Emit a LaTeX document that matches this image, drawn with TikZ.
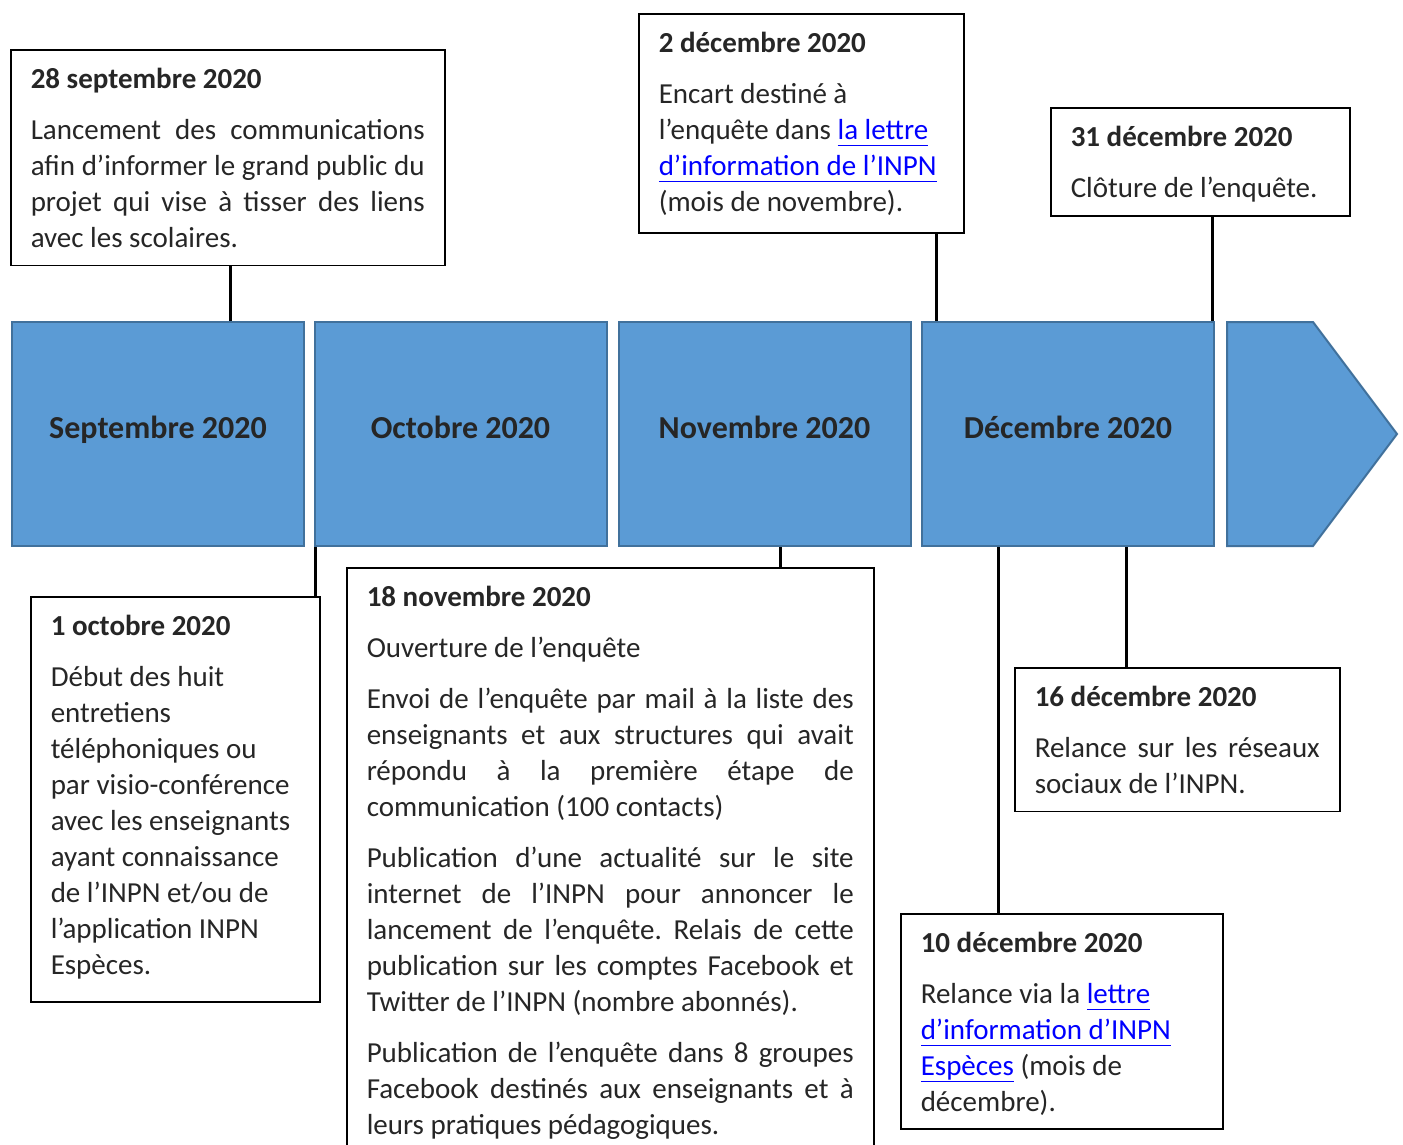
\documentclass[tikz,border=0pt]{standalone}
\usepackage{fontspec}
\setmainfont{Carlito}
\usetikzlibrary{positioning}
\definecolor{monthblue}{HTML}{5B9BD5}
\definecolor{monthedge}{HTML}{41719C}
\definecolor{inktext}{HTML}{262626}
\definecolor{linkblue}{HTML}{0000FF}
\newcommand\lnk[1]{\textcolor{linkblue}{\underline{#1\vphantom{p}}}}
\newcommand\evtitle[1]{{\bfseries #1}\par}
\frenchspacing

\begin{document}
\begin{tikzpicture}[x=1pt,y=-1pt,
  month/.style={draw=monthedge, line width=2pt, fill=monthblue, minimum width=292pt, minimum height=224pt, inner sep=0pt, text=inktext, font=\fontsize{32}{38}\selectfont\bfseries, text height=22pt, text depth=14pt},
  event/.style={draw=black, line width=1.5pt, fill=white, anchor=north west, align=justify, inner xsep=20pt, inner ysep=18pt, text=inktext, font=\fontsize{29}{36}\selectfont, execute at begin node={\frenchspacing\setlength\parskip{15pt}\hyphenpenalty=10000\exhyphenpenalty=10000}},
  tick/.style={line width=3pt}]
\useasboundingbox (0,0) rectangle (1403,1144);
% months
\node[month] (msep) at (158,434) {Septembre 2020};
\node[month, right=8.5pt of msep] (moct) {Octobre 2020};
\node[month, right=10pt of moct] (mnov) {Novembre 2020};
\node[month, right=9.5pt of mnov] (mdec) {Décembre 2020};
\draw[draw=monthedge, line width=2pt, fill=monthblue] (1227,322) -- (1313,322) -- (1397,434) -- (1313,546) -- (1227,546) -- cycle;
% events above
\node[event, text width=394pt] (evsep) at (10,49) {\evtitle{28 septembre 2020}Lancement des communications\linebreak afin d’informer le grand public du\linebreak projet qui vise à tisser des liens\linebreak avec les scolaires.};
\node[event, text width=285pt] (evdecb) at (638,13) {\evtitle{2 décembre 2020}Encart destiné à\newline l’enquête dans \lnk{la lettre}\newline \lnk{d’information de l’INPN}\newline (mois de novembre).};
\node[event, text width=259pt] (evdecd) at (1050,107) {\evtitle{31 décembre 2020}Clôture de l’enquête.\par\vspace{-4pt}};
% events below
\node[event, text width=249pt] (evoct) at (30,596) {\evtitle{1 octobre 2020}Début des huit\newline entretiens\newline téléphoniques ou\newline par visio-conférence\newline avec les enseignants\newline ayant connaissance\newline de l’INPN et/ou de\newline l’application INPN\newline Espèces.\par\vspace{5pt}};
\node[event, text width=487pt] (evnov) at (346,567) {\evtitle{18 novembre 2020}Ouverture de l’enquête\par
Envoi de l’enquête par mail à la liste des\linebreak enseignants et aux structures qui avait\linebreak répondu à la première étape de\linebreak communication (100 contacts)\par
Publication d’une actualité sur le site\linebreak internet de l’INPN pour annoncer le\linebreak lancement de l’enquête. Relais de cette\linebreak publication sur les comptes Facebook et\linebreak Twitter de l’INPN (nombre abonnés).\par
Publication de l’enquête dans 8 groupes\linebreak Facebook destinés aux enseignants et à\linebreak leurs pratiques pédagogiques.};
\node[event, text width=285pt] (evdecc) at (1014,667) {\evtitle{16 décembre 2020}Relance sur les réseaux\linebreak sociaux de l’INPN.};
\node[event, text width=282pt] (evdeca) at (900,913) {\evtitle{10 décembre 2020}Relance via la \lnk{lettre}\newline \lnk{d’information d’INPN}\newline \lnk{Espèces} (mois de\newline décembre).\par\vspace{-4pt}};
% connectors
\draw[tick] ([xshift=3pt]evsep.south) -- ([xshift=3pt]evsep.south |- msep.north);
\draw[tick] ([xshift=2pt]moct.south west) -- ([xshift=2pt]moct.south west |- evoct.north);
\draw[tick] ([xshift=16pt]mnov.south) -- ([xshift=16pt]mnov.south |- evnov.north);
\draw[tick] ([xshift=-28pt]evdecb.south east) -- ([xshift=-28pt]evdecb.south east |- mdec.north);
\draw[tick] ([xshift=12pt]evdecd.south) -- ([xshift=12pt]evdecd.south |- mdec.north);
\draw[tick] ([xshift=58pt]mdec.south) -- ([xshift=58pt]mdec.south |- evdecc.north);
\draw[tick] ([xshift=-70pt]mdec.south) -- ([xshift=-70pt]mdec.south |- evdeca.north);
\end{tikzpicture}
\end{document}
